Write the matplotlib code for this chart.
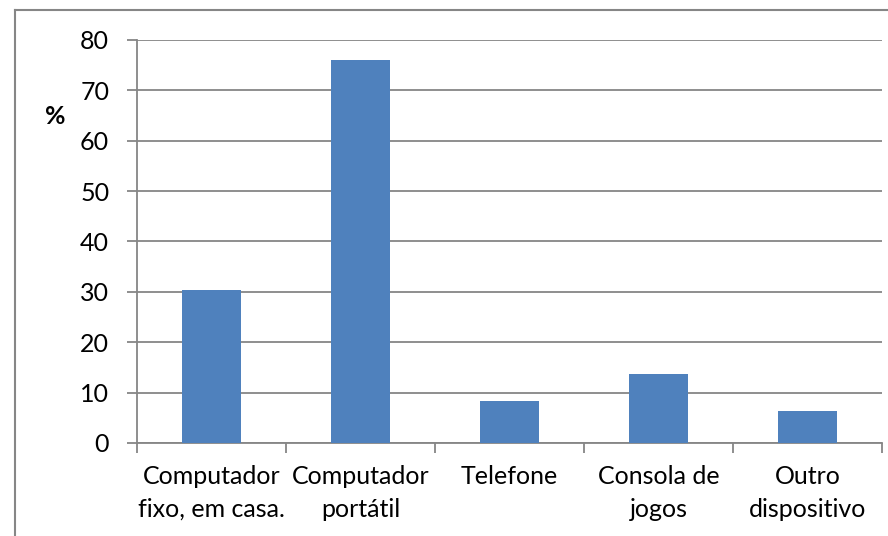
import numpy as np
import matplotlib.pyplot as plt
from matplotlib.lines import Line2D

categories = ["Computador\nfixo, em casa.", "Computador\nportátil", "Telefone",
              "Consola de\njogos", "Outro\ndispositivo"]
values = [30.3, 76.0, 8.3, 13.6, 6.3]
yticks = [0, 10, 20, 30, 40, 50, 60, 70, 80]

plt.rcParams['font.family'] = ['Lato', 'DejaVu Sans']
grid_col = '#868686'
fs = 18

fig = plt.figure(figsize=(8.88, 5.36), dpi=100)
ax = fig.add_axes([137/888, 93/536, 745/888, 403/536])

x = np.arange(len(categories))
ax.bar(x, values, width=0.4, color='#4F81BD', zorder=3)

ax.set_xlim(-0.5, len(categories) - 0.5)
ax.set_ylim(0, 80)
ax.set_yticks(yticks)
ax.set_yticklabels([str(v) for v in yticks], fontsize=fs)
ax.yaxis.grid(True, color=grid_col, linewidth=1.3, zorder=0)

# category labels centred, tick marks at boundaries
ax.set_xticks(x)
ax.set_xticklabels(categories, fontsize=fs, linespacing=1.5)
ax.tick_params(axis='x', length=0, pad=16)
ax.set_xticks(np.arange(-0.5, len(categories)), minor=True)
ax.tick_params(axis='x', which='minor', length=7, width=1.3, color=grid_col)
ax.tick_params(axis='y', length=7, width=1.3, color=grid_col, pad=13)

for s in ['top', 'right']:
    ax.spines[s].set_visible(False)
for s in ['left', 'bottom']:
    ax.spines[s].set_color(grid_col)
    ax.spines[s].set_linewidth(1.3)

fig.text(55/888, 1 - 117/536, '%', fontsize=fs, fontweight='bold',
         ha='center', va='center')

# outer chart border (left and top edges)
fig.add_artist(Line2D([15/888, 15/888], [0, 1 - 10/536], color=grid_col, lw=1.5,
                      transform=fig.transFigure))
fig.add_artist(Line2D([15/888, 1], [1 - 10/536, 1 - 10/536], color=grid_col, lw=1.5,
                      transform=fig.transFigure))

fig.savefig('out.png', dpi=100)
